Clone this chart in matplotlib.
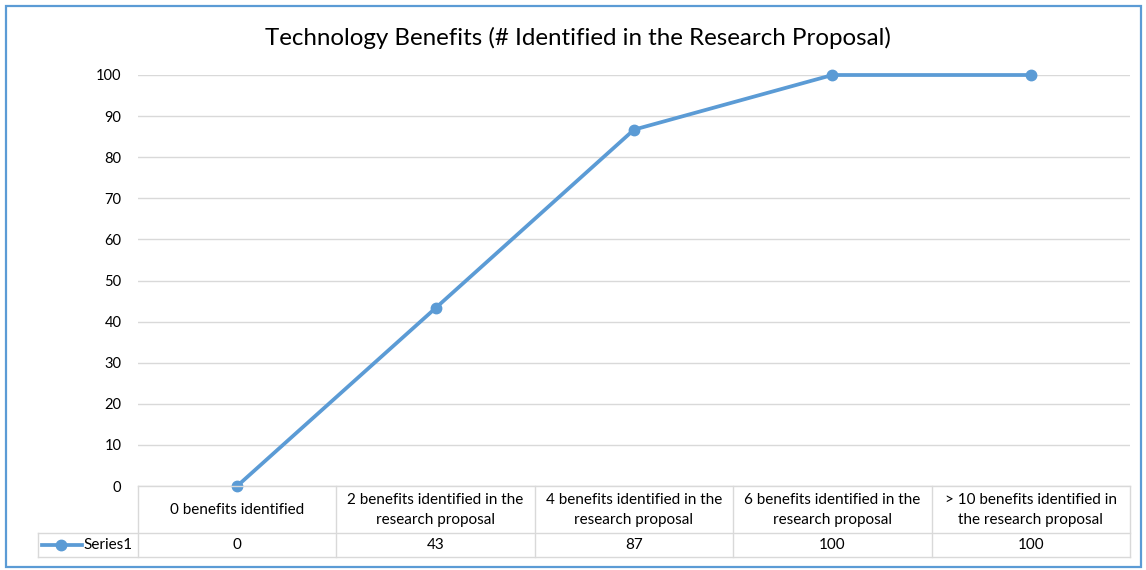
import matplotlib
matplotlib.use("Agg")
import matplotlib.pyplot as plt
import matplotlib.transforms as mtransforms
from matplotlib.lines import Line2D
from matplotlib.patches import Rectangle

categories = [
    "0 benefits identified",
    "2 benefits identified in the\nresearch proposal",
    "4 benefits identified in the\nresearch proposal",
    "6 benefits identified in the\nresearch proposal",
    "> 10 benefits identified in\nthe research proposal",
]
series_name = "Series1"
values = [0, 43.3, 86.7, 100, 100]
yticks = [0, 10, 20, 30, 40, 50, 60, 70, 80, 90, 100]
title = "Technology Benefits (# Identified in the Research Proposal)"

W, H = 1146, 570
FONT = ["Lato", "DejaVu Sans"]
LINE_C = "#5B9BD5"
GRID_C = "#D9D9D9"
TXT_C = "#000000"

fig = plt.figure(figsize=(W / 100, H / 100), dpi=100)
plt.rcParams['font.family'] = FONT

def fx(px):
    return px / W

def fy(py):
    return 1 - py / H

left, right, top, bottom = 138, 1130, 75, 486
ax = fig.add_axes([fx(left), fy(bottom), fx(right - left), (bottom - top) / H])
ax.set_xlim(-0.5, len(categories) - 0.5)
ax.set_ylim(0, 100)
for s in ax.spines.values():
    s.set_visible(False)
ax.set_yticks(yticks)
ax.set_yticklabels([str(t) for t in yticks], fontsize=10.5, color=TXT_C)
ax.tick_params(axis='y', length=0, pad=12)
ax.set_xticks([])
ax.yaxis.grid(True, color=GRID_C, linewidth=1)
ax.set_axisbelow(True)

x = list(range(len(values)))
ax.plot(x, values, color=LINE_C, linewidth=2.7, marker='o', markersize=7.5,
        markerfacecolor=LINE_C, markeredgecolor=LINE_C, clip_on=False, zorder=5)

# Data table
bt = mtransforms.blended_transform_factory(ax.transData, fig.transFigure)
row1_top, row1_bot, row2_bot = 486, 533, 557
legend_left = 38
fig.add_artist(Line2D([fx(left), fx(right)], [fy(row1_top)] * 2, color=GRID_C, lw=1))
fig.add_artist(Line2D([fx(legend_left), fx(right)], [fy(row1_bot)] * 2, color=GRID_C, lw=1))
fig.add_artist(Line2D([fx(legend_left), fx(right)], [fy(row2_bot)] * 2, color=GRID_C, lw=1))
fig.add_artist(Line2D([fx(legend_left)] * 2, [fy(row1_bot), fy(row2_bot)], color=GRID_C, lw=1))
for k in range(len(categories) + 1):
    b = k - 0.5
    fig.add_artist(Line2D([b, b], [fy(row1_top), fy(row2_bot)], color=GRID_C, lw=1,
                          transform=bt))
for i, (c, v) in enumerate(zip(categories, values)):
    fig.text(i, fy((row1_top + row1_bot) / 2 + 0.5), c, transform=bt, ha='center', va='center',
             fontsize=11, color=TXT_C, linespacing=1.6)
    fig.text(i, fy((row1_bot + row2_bot) / 2), f"{round(v):d}", transform=bt,
             ha='center', va='center', fontsize=11, color=TXT_C)

# legend key
ym = fy((row1_bot + row2_bot) / 2)
fig.add_artist(Line2D([fx(42), fx(82)], [ym, ym], color=LINE_C, lw=2.7))
fig.add_artist(Line2D([fx(61)], [ym], color=LINE_C, marker='o', markersize=7.5, lw=0))
fig.text(fx(83), ym, series_name, ha='left', va='center', fontsize=11, color=TXT_C)

fig.text(fx(578), fy(38), title, ha='center', va='center', fontsize=17.4, color=TXT_C)

fig.add_artist(Rectangle((fx(6), fy(567)), fx(1135), (567 - 6) / H, fill=False,
                         edgecolor=LINE_C, linewidth=1.6, transform=fig.transFigure))

fig.savefig("out.png", dpi=100)
